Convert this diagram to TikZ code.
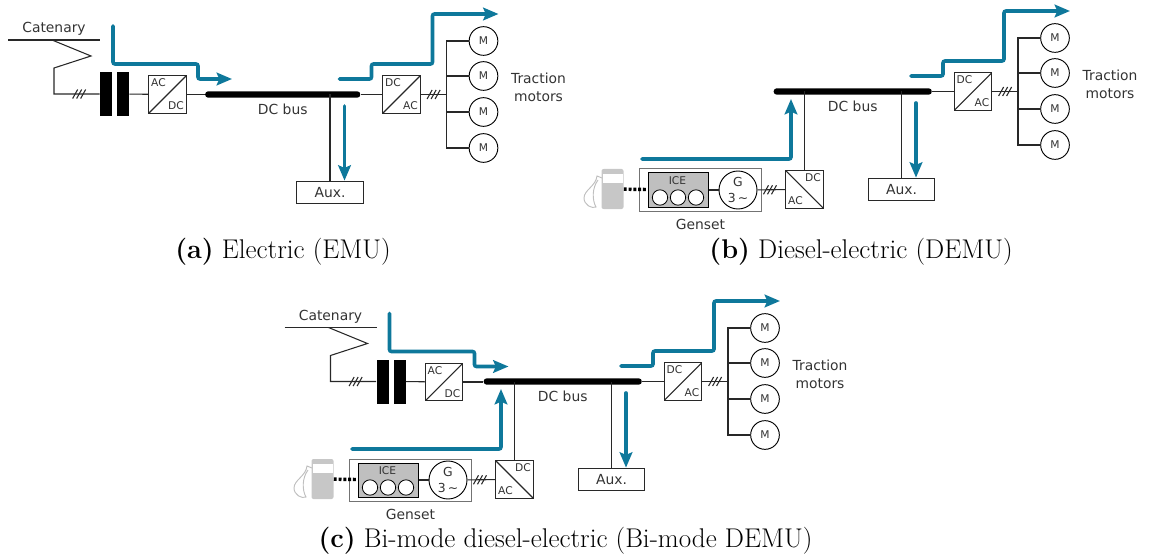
\documentclass[tikz,border=0pt]{standalone}
\usepackage{fontspec}
\setsansfont{DejaVu Sans}
\usepackage{tikz}
\usetikzlibrary{arrows.meta, positioning, calc}
\definecolor{flowblue}{RGB}{14,120,155}
\definecolor{wiregray}{RGB}{40,40,40}

% Load side: bus, auxiliaries, inverter and motors
\newcommand{\drawload}[3]{%
  \begin{scope}[shift={(#2)}, name prefix=#1-]
    \node[busbar, minimum width=#3, anchor=east] (bus) at (932,91.5) {};
    \node[lbl, below=4.5pt of bus]   (buslabel) {DC bus};
    \node[box]                       (aux)   at (901.5,189.5) {Aux.};
    \node[convup={DC}{AC}]           (inv)   at (973,91.5) {};
    \coordinate                      (star)  at (1018,91.5);
    \foreach \n/\y in {1/38,2/73,3/109,4/145}
      \node[motor] (m\n) at (1055,\y) {M};
    \node[lbl, align=center]         (traction) at (1110,84) {Traction\\motors};

    % Wires
    \draw[wire] (aux) -- (aux |- bus);
    \draw[wire] (bus) -- (inv);
    \draw[wire] (inv) -- (star) pic[pos=.5]{slashes};
    \foreach \n in {1,...,4}
      \draw[wire] (m\n) -| (star);

    % Power flow
    \coordinate (tractstart) at (911,76);
    \coordinate (tractend)   at (1070,11);
    \draw[flow] (tractstart) -- ++(32,0) -- ++(0,-15) -- ++(61,0) |- (tractend);
    \coordinate (auxstart)   at (916,103);
    \draw[flow] (auxstart) -- (auxstart |- aux.north);
  \end{scope}}

% Catenary feed: pantograph, transformer and rectifier
\newcommand{\drawfeed}[2]{%
  \begin{scope}[shift={(#2)}, name prefix=#1-]
    \coordinate (catleft)  at (8,40);
    \coordinate (catright) at (100,40);
    \coordinate (panto)    at (52,40);
    \coordinate (elbow)    at (91,56);
    \coordinate (knee)     at (54,68);
    \node[lbl]             (catlabel) at (54,29) {Catenary};
    \node[core]            (corea) at (106,94) {};
    \node[core]            (coreb) at (123,94) {};
    \node[convup={AC}{DC}] (rect)  at (167.5,94.5) {};
    \coordinate (foot) at (knee |- corea);

    % Wires
    \draw[wire] (catleft) -- (catright);
    \draw[wire] (panto) -- (elbow) -- (knee) -- (foot) -- (corea) pic[pos=.55]{slashes};
    \draw[wire] (coreb) -- (rect);
    \draw[wire] (rect) -- (rect -| bus.west);

    % Power flow
    \coordinate (feedstart) at (113,26);
    \coordinate (feedend)   at (232,79);
    \draw[flow] (feedstart) -- ++(0,38) -- ++(85,0) |- (feedend);
  \end{scope}}

% Genset branch: tank, engine, generator and rectifier
\newcommand{\drawgenset}[2]{%
  \begin{scope}[shift={(#2)}, name prefix=#1-]
    \node[gensetbox]           (genset) at (700.5,190) {};
    \node[lbl, below=5.5pt of genset] (gensetlabel) {Genset};
    \node[engine]              (ice)    at (678,190) {};
    \node[smalllbl]            (icelabel) at (677.5,181) {ICE};
    \foreach \n/\x in {1/660,2/678,3/696}
      \node[cylinder] (cyl\n) at (\x,197.5) {};
    \node[generator]           (gen)    at (738,190) {G\\3\,\textasciitilde};
    \node[convdown={DC}{AC}]   (rect)   at (804.5,189.5) {};
    \node[pump]                (pump)   at (612.5,189) {};
    \node[pumpglass]           (glass)  at (613,178.5) {};
    \coordinate (nozzle) at (602,178);

    % Hose
    \draw[hose] (nozzle) -- ++(-5,-2) .. controls (596,186) and (584,190) .. (584,198)
      .. controls (584,205) and (592,209) .. (596,207)
      .. controls (592,200) and (592,188) .. (598,180);

    % Wires
    \draw[fuel] (pump) -- (ice);
    \draw[wire] (ice) -- (gen);
    \draw[wire] (gen) -- (rect) pic[pos=.45]{slashes};
    \draw[wire] (rect) -- (rect |- bus);

    % Power flow
    \coordinate (genstart) at (642,159);
    \coordinate (genend)   at (791,99);
    \draw[flow] (genstart) -| (genend);
  \end{scope}}

\begin{document}
\begin{tikzpicture}[
    x=0.75pt, y=-0.75pt,
    wire/.style={draw=wiregray, line width=0.8pt},
    flow/.style={draw=flowblue, line width=2.7pt, rounded corners=1.5pt, line cap=round,
                 -{Stealth[length=11.5pt, width=9.5pt, inset=2pt]}},
    fuel/.style={draw=black, line width=2.6pt, dash pattern=on 2.2pt off 1.4pt},
    hose/.style={draw=black!25, line width=0.7pt},
    lbl/.style={font=\sffamily\fontsize{10.4}{13.4}\selectfont, text=black!80, inner sep=0pt},
    smalllbl/.style={font=\sffamily\fontsize{8}{9}\selectfont, text=black!80, inner sep=0pt},
    busbar/.style={fill=black, rounded corners=2pt, inner sep=0pt, minimum height=4.6pt},
    core/.style={fill=black, inner sep=0pt, minimum width=9pt, minimum height=33pt},
    box/.style={lbl, draw=wiregray, fill=white, line width=0.8pt,
                minimum width=50pt, minimum height=17pt},
    conv/.style={draw=wiregray, fill=white, line width=0.8pt, minimum size=28pt, inner sep=0pt},
    convlbl/.style={smalllbl},
    convup/.style 2 args={conv,
      path picture={\draw[wire] (path picture bounding box.south west)
                                -- (path picture bounding box.north east);},
      label={[convlbl, anchor=north west, xshift=2pt, yshift=-2.5pt]north west:#1},
      label={[convlbl, anchor=south east, xshift=-2pt, yshift=2.5pt]south east:#2}},
    convdown/.style 2 args={conv,
      path picture={\draw[wire] (path picture bounding box.north west)
                                -- (path picture bounding box.south east);},
      label={[convlbl, anchor=north east, xshift=-2pt, yshift=-2.5pt]north east:#1},
      label={[convlbl, anchor=south west, xshift=2pt, yshift=2.5pt]south west:#2}},
    motor/.style={circle, draw=black, line width=0.7pt, fill=white, minimum size=21.5pt, inner sep=0pt,
                  font=\sffamily\fontsize{8}{9}\selectfont, text=black!80},
    gensetbox/.style={draw=black!55, line width=0.75pt, fill=white, inner sep=0pt,
                      minimum width=91pt, minimum height=31.5pt},
    engine/.style={draw=black, line width=0.75pt, fill=black!25, inner sep=0pt,
                   minimum width=45pt, minimum height=25.5pt},
    cylinder/.style={circle, draw=black, line width=0.6pt, fill=white, minimum size=11.5pt, inner sep=0pt},
    generator/.style={circle, draw=black, line width=0.7pt, fill=white, minimum size=28.5pt, inner sep=0pt,
                      align=center, font=\sffamily\fontsize{9.3}{11.5}\selectfont, text=black!80},
    pump/.style={fill=black!22, rounded corners=1.5pt, inner sep=0pt,
                 minimum width=16.5pt, minimum height=30pt},
    pumpglass/.style={fill=white, inner sep=0pt, minimum width=14.5pt, minimum height=7pt},
    capt/.style={font=\fontsize{20.3}{24}\selectfont, inner sep=0pt, anchor=base},
    slashes/.pic={\foreach \d in {-4,0,4}
                    \draw[wire] (\d-2.5,4.5) -- (\d+2.5,-4.5);}
  ]
    \useasboundingbox (0,0) rectangle (1149,556);

    % (a) Electric
    \drawload{a}{-571.5,3}{116.25pt}
    \drawfeed{a}{0,0}
    \node[capt] (capta) at (283,258) {\textbf{(a)} Electric (EMU)};

    % (b) Diesel-electric
    \drawload{b}{0,0}{118.5pt}
    \drawgenset{b}{0,0}
    \node[capt] (captb) at (861,258) {\textbf{(b)} Diesel-electric (DEMU)};

    % (c) Bi-mode
    \drawload{c}{-290,290}{118.5pt}
    \drawgenset{c}{-290,290}
    \drawfeed{c}{276.5,287.5}
    \node[capt] (captc) at (565.5,547) {\textbf{(c)} Bi-mode diesel-electric (Bi-mode DEMU)};
  \end{tikzpicture}
\end{document}
